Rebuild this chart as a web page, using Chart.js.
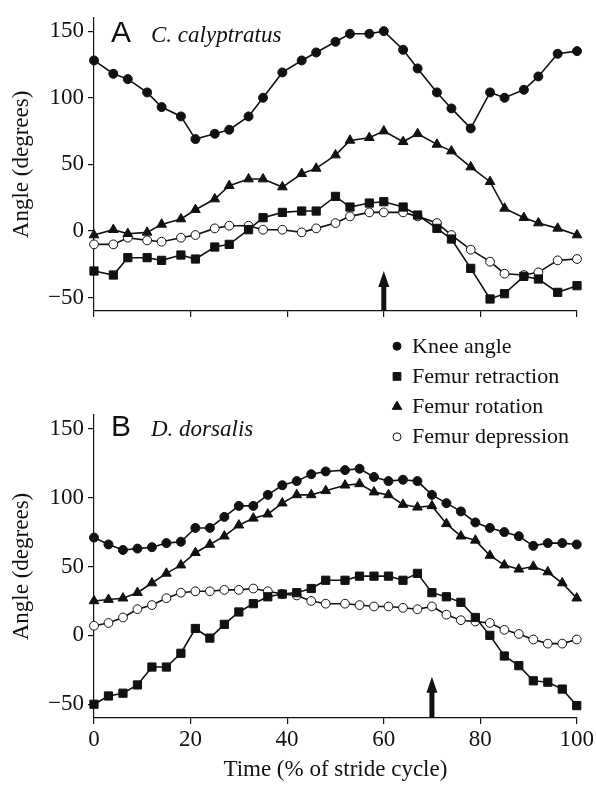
<!DOCTYPE html>
<html>
<head>
<meta charset="utf-8">
<title>Hindlimb kinematics</title>
<script src="https://cdn.jsdelivr.net/npm/chart.js@4.4.1/dist/chart.umd.min.js"></script>
<style>
    html, body { margin: 0; padding: 0; background: #fff; }
    #wrap { position: relative; width: 596px; height: 786px; overflow: hidden; }
    canvas { position: absolute; left: 0; }
    #panelA { top: 0; }
    #panelB { top: 330px; }
</style>
</head>
<body>
<div id="wrap">
    <canvas id="panelA" width="596" height="330"></canvas>
    <canvas id="panelB" width="596" height="456"></canvas>
</div>
<script>
// Time (% of stride cycle) for each sample
const timeA = [0, 4, 7, 11, 14, 18, 21, 25, 28, 32, 35, 39, 43, 46, 50, 53, 57, 60, 64, 67, 71, 74, 78, 82, 85, 89, 92, 96, 100];
const timeB = [0, 3, 6, 9, 12, 15, 18, 21, 24, 27, 30, 33, 36, 39, 42, 45, 48, 52, 55, 58, 61, 64, 67, 70, 73, 76, 79, 82, 85, 88, 91, 94, 97, 100];

// A - C. calyptratus (degrees)
const kneeA = [128, 118, 114, 104, 93, 86, 69, 73, 76, 86, 100, 119, 128, 134, 142, 148, 148, 150, 136, 122, 104, 92, 77, 104, 100, 106, 116, 133, 135];
const retractionA = [-30, -33, -20, -20, -22, -18, -21, -12, -10, 1, 10, 14, 15, 15, 26, 18, 21, 22, 18, 12, 2, -6, -28, -51, -47, -34, -36, -46, -41];
const rotationA = [-3, 1, -2, -1, 5, 9, 16, 24, 34, 39, 39, 33, 43, 47, 57, 68, 70, 75, 67, 73, 65, 60, 48, 37, 17, 10, 6, 2, -3];
const depressionA = [-10, -10, -5, -7, -8, -5, -3, 2, 4, 4, 1, 1, -1, 2, 6, 11, 14, 14, 14, 11, 6, -3, -14, -23, -32, -33, -31, -22, -21];

// B - D. dorsalis (degrees)
const kneeB = [71, 66, 62, 63, 64, 67, 68, 78, 78, 86, 94, 94, 102, 109, 112, 117, 119, 120, 121, 115, 112, 113, 112, 102, 96, 90, 82, 78, 75, 72, 65, 67, 67, 66];
const retractionB = [-50, -44, -42, -36, -23, -23, -13, 5, -2, 8, 17, 23, 28, 30, 31, 34, 40, 40, 43, 43, 43, 40, 45, 31, 28, 24, 13, 0, -15, -22, -33, -34, -39, -51];
const rotationB = [25, 26, 27, 31, 38, 45, 51, 60, 66, 72, 80, 85, 88, 96, 102, 102, 105, 109, 110, 104, 102, 95, 93, 94, 81, 72, 69, 58, 51, 48, 50, 46, 38, 27];
const depressionB = [7, 9, 13, 19, 22, 27, 31, 32, 32, 33, 33, 34, 32, 30, 29, 25, 23, 23, 22, 21, 21, 20, 19, 21, 15, 11, 10, 9, 4, 1, -3, -6, -6, -3];

const seriesNames = ["Knee angle", "Femur retraction", "Femur rotation", "Femur depression"];
const yTickValues = [-50, 0, 50, 100, 150];

// arrows under each panel (% of stride)
const arrowA = 60;
const arrowB = 70;
const arrowTip = -30;

const INK = "#111";
const SERIF = "'Liberation Serif', 'Times New Roman', serif";

const markerStyles = [
    { pointStyle: "circle", radius: 4.5, fill: INK },
    { pointStyle: "rect", radius: 5.8, fill: INK },
    { pointStyle: "triangle", radius: 5.6, fill: INK },
    { pointStyle: "circle", radius: 4.4, fill: "#fff" },
];

function toPoints(xs, ys) {
    return xs.map((x, i) => ({ x: x, y: ys[i] }));
}

function drawMarker(ctx, style, radius, x, y) {
    if (Chart.helpers && Chart.helpers.drawPoint) {
        Chart.helpers.drawPoint(ctx, { pointStyle: style, radius: radius, borderWidth: 1, rotation: 0 }, x, y);
        return;
    }
    ctx.beginPath();
    ctx.arc(x, y, radius, 0, Math.PI * 2);
    ctx.fill();
    ctx.stroke();
}

// letter + species name in the top-left corner of the plot
const panelLabel = {
    id: "panelLabel",
    afterDraw(chart, args, opts) {
        const { ctx, chartArea } = chart;
        ctx.save();
        ctx.fillStyle = INK;
        ctx.textBaseline = "alphabetic";
        ctx.font = "30px 'Liberation Sans', Arial, sans-serif";
        ctx.fillText(opts.letter, chartArea.left + 17, chartArea.top + opts.baseline);
        ctx.font = "italic 23px " + SERIF;
        ctx.fillText(opts.species, chartArea.left + 57, chartArea.top + opts.baseline);
        ctx.restore();
    },
};

// black arrow standing on the x axis
const stanceArrow = {
    id: "stanceArrow",
    afterDatasetsDraw(chart, args, opts) {
        const { ctx } = chart;
        const x = chart.scales.x.getPixelForValue(opts.at);
        const base = chart.scales.y.bottom;
        const tip = chart.scales.y.getPixelForValue(opts.tip);
        const headLen = 16, headW = 5.5, shaftW = 2.5;
        ctx.save();
        ctx.fillStyle = INK;
        ctx.beginPath();
        ctx.moveTo(x - shaftW, base);
        ctx.lineTo(x - shaftW, tip + headLen);
        ctx.lineTo(x - headW, tip + headLen);
        ctx.lineTo(x, tip);
        ctx.lineTo(x + headW, tip + headLen);
        ctx.lineTo(x + shaftW, tip + headLen);
        ctx.lineTo(x + shaftW, base);
        ctx.closePath();
        ctx.fill();
        ctx.restore();
    },
};

// vertical legend sitting between the two panels
const sideLegend = {
    id: "sideLegend",
    afterDraw(chart, args, opts) {
        const { ctx } = chart;
        ctx.save();
        ctx.font = "22px " + SERIF;
        ctx.textBaseline = "alphabetic";
        chart.data.datasets.forEach((ds, i) => {
            const y = opts.top + i * opts.gap;
            ctx.fillStyle = ds.pointBackgroundColor;
            ctx.strokeStyle = INK;
            ctx.lineWidth = 1;
            drawMarker(ctx, ds.pointStyle, opts.sizes[i], opts.left, y - 6.5);
            ctx.fillStyle = INK;
            ctx.fillText(ds.label, opts.left + 15, y);
        });
        ctx.restore();
    },
};

function buildPanel(canvasId, time, series, panel) {
    const datasets = series.map((values, i) => ({
        label: seriesNames[i],
        data: toPoints(time, values),
        borderColor: INK,
        borderWidth: 1.6,
        pointStyle: markerStyles[i].pointStyle,
        pointRadius: markerStyles[i].radius,
        pointBackgroundColor: markerStyles[i].fill,
        pointBorderColor: INK,
        pointBorderWidth: 1,
        tension: 0,
        fill: false,
        clip: false,
    }));

    return new Chart(document.getElementById(canvasId), {
        type: "line",
        data: { datasets: datasets },
        options: {
            responsive: false,
            animation: false,
            devicePixelRatio: 1,
            events: [],
            layout: { padding: panel.padding },
            plugins: {
                legend: { display: false },
                tooltip: { enabled: false },
                panelLabel: { letter: panel.letter, species: panel.species, baseline: panel.labelBaseline },
                stanceArrow: { at: panel.arrow, tip: arrowTip },
                sideLegend: { left: 397, top: 22.7, gap: 30.2, sizes: [4, 5.5, 5.5, 4] },
            },
            scales: {
                x: {
                    type: "linear",
                    min: 0,
                    max: 100,
                    ticks: {
                        stepSize: 20,
                        display: panel.showXLabels,
                        color: INK,
                        padding: 2,
                        font: { family: SERIF, size: 23 },
                    },
                    grid: { drawOnChartArea: false, drawTicks: true, tickLength: 6, color: INK, lineWidth: 1.2 },
                    border: { display: true, color: INK, width: 1.2 },
                    title: {
                        display: panel.showXLabels,
                        text: "Time (% of stride cycle)",
                        color: INK,
                        padding: { top: 0, bottom: 2 },
                        font: { family: SERIF, size: 23 },
                    },
                    afterFit: (scale) => { scale.height = panel.xHeight; },
                },
                y: {
                    min: -60,
                    max: 160,
                    afterBuildTicks: (scale) => {
                        scale.ticks = yTickValues.map((v) => ({ value: v }));
                    },
                    ticks: {
                        color: INK,
                        padding: 4,
                        font: { family: SERIF, size: 23 },
                        callback: (v) => (v < 0 ? "\u2212" + Math.abs(v) : String(v)),
                    },
                    grid: { drawOnChartArea: false, drawTicks: true, tickLength: 6, color: INK, lineWidth: 1.2 },
                    border: { display: true, color: INK, width: 1.2 },
                    title: {
                        display: true,
                        text: "Angle (degrees)",
                        color: INK,
                        padding: { top: 8, bottom: 0 },
                        font: { family: SERIF, size: 23 },
                    },
                    afterFit: (scale) => { scale.width = 94; },
                },
            },
        },
        plugins: panel.plugins,
    });
}

buildPanel("panelA", timeA, [kneeA, retractionA, rotationA, depressionA], {
    letter: "A",
    species: "C. calyptratus",
    labelBaseline: 24,
    arrow: arrowA,
    padding: { top: 8, right: 19, bottom: 0, left: 0 },
    xHeight: 19,
    showXLabels: false,
    plugins: [panelLabel, stanceArrow],
});

buildPanel("panelB", timeB, [kneeB, retractionB, rotationB, depressionB], {
    letter: "B",
    species: "D. dorsalis",
    labelBaseline: 21,
    arrow: arrowB,
    padding: { top: 85, right: 19, bottom: 0, left: 0 },
    xHeight: 68,
    showXLabels: true,
    plugins: [panelLabel, stanceArrow, sideLegend],
});
</script>
</body>
</html>
